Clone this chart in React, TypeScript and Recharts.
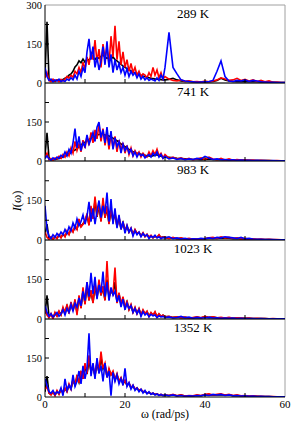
import React from "react";
import { LineChart, Line, XAxis, YAxis, ReferenceLine } from "recharts";

// Frequency grid (rad/ps)
const W = [
  0, 0.5, 1, 1.5, 2, 2.5, 3, 3.5, 4, 4.5, 5, 5.5, 6, 6.5, 7, 7.5, 8, 8.5, 9, 9.5,
  10, 10.5, 11, 11.5, 12, 12.5, 13, 13.5, 14, 14.5, 15, 15.5, 16, 16.5, 17, 17.5, 18, 18.5, 19, 19.5,
  20, 20.5, 21, 21.5, 22, 22.5, 23, 23.5, 24, 24.5, 25, 25.5, 26, 26.5, 27, 27.5, 28, 28.5, 29, 29.5,
  30, 31, 32, 33, 34, 35, 36, 37, 38, 39, 40, 41, 42, 43, 44, 45, 46, 47, 48, 49,
  50, 51, 52, 53, 54, 55, 56, 57, 58, 59, 60,
];

const TEMPS = ["289 K", "741 K", "983 K", "1023 K", "1352 K"];
const X_TICKS = [0, 10, 20, 30, 40, 50, 60];
const Y_TICKS = [0, 75, 150, 225, 300];

// 289 K
const K1 = [
  30, 235, 15, 8, 10, 6, 12, 8, 10, 14, 18, 22, 30, 35, 45, 62, 70, 85, 78, 92,
  80, 92, 88, 98, 95, 90, 100, 95, 102, 108, 100, 95, 98, 92, 100, 90, 85, 78, 72, 65,
  60, 55, 50, 46, 42, 38, 35, 32, 30, 26, 25, 22, 20, 18, 17, 15, 15, 14, 13, 12,
  12, 14, 18, 12, 8, 6, 6, 5, 5, 5, 4, 5, 6, 10, 18, 12, 8, 6, 5, 6,
  5, 5, 6, 5, 4, 4, 3, 3, 2, 2, 2,
];
const R1 = [
  20, 40, 10, 5, 15, 8, 12, 5, 14, 8, 15, 25, 18, 30, 22, 45, 35, 60, 40, 80,
  55, 100, 70, 120, 90, 165, 80, 130, 60, 150, 95, 140, 70, 180, 100, 220, 90, 160, 70, 120,
  60, 90, 45, 75, 40, 60, 30, 45, 25, 35, 30, 20, 40, 25, 60, 30, 50, 20, 40, 15,
  25, 15, 10, 8, 12, 6, 8, 5, 6, 4, 7, 5, 8, 12, 20, 15, 10, 12, 18, 10,
  14, 8, 12, 6, 10, 5, 8, 3, 4, 2, 2,
];
const B1 = [
  60, 25, 10, 15, 5, 12, 8, 15, 5, 10, 6, 15, 10, 20, 12, 30, 15, 45, 25, 60,
  40, 120, 170, 90, 140, 60, 100, 50, 85, 140, 70, 160, 60, 110, 40, 90, 50, 75, 40, 60,
  30, 55, 25, 45, 30, 40, 20, 35, 15, 25, 12, 20, 10, 15, 12, 8, 20, 10, 30, 15,
  60, 195, 60, 35, 12, 8, 6, 5, 3, 4, 5, 6, 10, 45, 85, 25, 8, 6, 10, 8,
  12, 6, 10, 8, 5, 4, 3, 3, 2, 2, 2,
];

// 741 K
const K2 = [
  20, 108, 12, 6, 5, 6, 8, 10, 12, 15, 18, 22, 28, 32, 38, 42, 48, 55, 62, 68,
  72, 78, 82, 88, 92, 96, 100, 102, 104, 102, 100, 98, 96, 92, 88, 82, 78, 72, 66, 60,
  55, 50, 45, 40, 36, 32, 30, 28, 26, 24, 22, 20, 19, 18, 20, 22, 24, 20, 18, 16,
  15, 14, 12, 10, 9, 8, 7, 6, 6, 5, 6, 8, 6, 5, 5, 4, 4, 4, 3, 3,
  3, 3, 2, 2, 2, 2, 2, 1, 1, 1, 1,
];
const R2 = [
  15, 30, 5, 10, 3, 12, 8, 18, 10, 25, 15, 35, 20, 50, 30, 75, 40, 65, 35, 80,
  50, 95, 60, 110, 70, 120, 85, 140, 75, 125, 60, 110, 45, 100, 50, 95, 35, 80, 40, 70,
  30, 60, 25, 50, 20, 40, 25, 35, 15, 30, 20, 15, 35, 20, 40, 25, 45, 20, 30, 12,
  25, 10, 15, 8, 12, 6, 10, 5, 8, 12, 6, 15, 8, 5, 10, 4, 8, 3, 6, 4,
  5, 3, 4, 2, 3, 2, 2, 1, 2, 1, 1,
];
const B2 = [
  10, 20, 8, 3, 12, 6, 15, 10, 22, 15, 35, 20, 45, 30, 70, 125, 50, 95, 40, 70,
  55, 100, 65, 85, 110, 75, 130, 150, 90, 120, 70, 130, 60, 115, 45, 90, 55, 75, 30, 65,
  40, 55, 30, 45, 20, 35, 15, 30, 20, 25, 12, 20, 25, 15, 30, 20, 35, 15, 25, 10,
  18, 8, 12, 6, 10, 5, 8, 6, 10, 8, 18, 12, 6, 8, 5, 6, 4, 5, 3, 4,
  3, 3, 2, 3, 2, 2, 1, 2, 1, 1, 1,
];

// 983 K
const K3 = [
  20, 60, 5, 10, 3, 12, 6, 18, 10, 22, 14, 30, 22, 40, 32, 50, 42, 72, 52, 62,
  72, 95, 58, 120, 82, 150, 88, 130, 72, 145, 85, 120, 62, 110, 72, 100, 52, 85, 42, 66,
  36, 52, 30, 42, 22, 38, 24, 28, 16, 26, 13, 20, 11, 16, 9, 14, 10, 18, 9, 11,
  10, 6, 8, 5, 6, 4, 5, 4, 4, 4, 5, 6, 7, 6, 8, 7, 7, 5, 6, 4,
  4, 3, 3, 2, 2, 2, 2, 1, 1, 1, 1,
];
const R3 = [
  30, 10, 3, 12, 0, 15, 5, 20, 8, 25, 12, 35, 20, 45, 30, 55, 40, 80, 50, 60,
  75, 100, 55, 130, 80, 165, 90, 140, 70, 160, 85, 130, 60, 120, 75, 105, 50, 90, 40, 70,
  35, 55, 30, 45, 20, 40, 25, 30, 15, 28, 12, 22, 10, 18, 8, 15, 10, 20, 8, 12,
  10, 6, 10, 5, 8, 4, 6, 3, 5, 4, 6, 8, 10, 6, 12, 8, 10, 6, 8, 5,
  6, 4, 5, 3, 4, 2, 3, 2, 2, 1, 1,
];
const B3 = [
  130, 40, 15, 5, 20, 10, 25, 15, 30, 20, 40, 25, 50, 35, 65, 45, 80, 55, 70, 95,
  60, 90, 145, 70, 120, 60, 110, 150, 85, 130, 100, 180, 70, 155, 60, 120, 45, 95, 40, 70,
  25, 55, 30, 45, 15, 35, 20, 30, 12, 25, 15, 20, 5, 15, 10, 18, 8, 12, 5, 10,
  8, 12, 5, 8, 4, 6, 3, 5, 4, 6, 5, 8, 6, 10, 8, 12, 10, 8, 6, 10,
  5, 6, 4, 3, 3, 2, 2, 2, 1, 1, 1,
];

// 1023 K
const K4 = [
  20, 90, 8, 18, 4, 22, 12, 28, 16, 40, 26, 50, 24, 60, 32, 70, 22, 82, 42, 108,
  58, 125, 72, 105, 62, 125, 82, 135, 90, 118, 72, 150, 85, 105, 95, 140, 62, 95, 55, 80,
  42, 65, 36, 52, 26, 42, 22, 38, 16, 32, 20, 28, 11, 23, 15, 25, 9, 18, 10, 14,
  8, 9, 6, 7, 5, 6, 4, 5, 6, 5, 8, 6, 7, 5, 5, 4, 5, 3, 4, 3,
  3, 3, 2, 2, 2, 2, 1, 1, 1, 1, 1,
];
const R4 = [
  40, 15, 5, 20, 0, 25, 10, 30, 15, 45, 25, 55, 20, 65, 30, 75, 15, 90, 40, 120,
  55, 140, 70, 110, 60, 135, 80, 150, 90, 125, 70, 220, 80, 110, 95, 195, 60, 100, 55, 85,
  40, 70, 35, 55, 25, 45, 20, 40, 15, 35, 20, 30, 10, 25, 15, 28, 8, 20, 10, 15,
  8, 10, 6, 8, 5, 7, 4, 6, 8, 5, 10, 6, 8, 5, 6, 4, 6, 3, 5, 4,
  3, 4, 2, 3, 2, 2, 1, 2, 1, 1, 1,
];
const B4 = [
  50, 25, 10, 20, 8, 15, 25, 10, 20, 35, 15, 40, 25, 55, 30, 60, 45, 80, 50, 105,
  70, 140, 85, 175, 95, 160, 75, 130, 100, 180, 85, 140, 70, 120, 90, 105, 65, 90, 45, 75,
  35, 60, 40, 50, 25, 40, 20, 35, 10, 28, 15, 22, 8, 18, 12, 15, 5, 12, 8, 10,
  6, 8, 4, 6, 10, 5, 7, 3, 6, 4, 5, 6, 4, 5, 3, 4, 3, 4, 2, 3,
  2, 2, 2, 1, 2, 1, 1, 1, 1, 1, 1,
];

// 1352 K
const K5 = [
  20, 80, 15, 10, 18, 8, 22, 12, 28, 16, 32, 22, 46, 32, 64, 46, 78, 56, 92, 70,
  118, 88, 140, 98, 115, 82, 130, 95, 150, 108, 122, 78, 105, 85, 96, 66, 86, 60, 72, 50,
  62, 45, 52, 36, 43, 30, 34, 25, 28, 20, 21, 15, 17, 12, 14, 10, 11, 8, 9, 6,
  7, 6, 8, 5, 7, 4, 5, 4, 6, 5, 8, 9, 7, 8, 9, 7, 8, 5, 6, 4,
  5, 3, 4, 3, 2, 2, 2, 1, 1, 1, 1,
];
const R5 = [
  30, 40, 15, 8, 20, 5, 25, 10, 30, 15, 35, 20, 50, 30, 70, 45, 85, 55, 100, 70,
  130, 90, 160, 100, 120, 80, 140, 95, 175, 110, 130, 75, 110, 85, 100, 65, 90, 60, 75, 50,
  65, 45, 55, 35, 45, 30, 35, 25, 30, 20, 22, 15, 18, 12, 15, 10, 12, 8, 10, 6,
  8, 6, 10, 5, 8, 4, 6, 5, 8, 6, 10, 12, 8, 10, 12, 8, 10, 6, 8, 5,
  6, 4, 5, 3, 3, 2, 2, 2, 1, 1, 1,
];
const B5 = [
  70, 45, 20, 15, 25, 10, 20, 15, 35, 5, 70, 25, 45, 30, 85, 40, 60, 100, 50, 120,
  70, 110, 245, 80, 130, 70, 150, 90, 120, 60, 130, 75, 100, 5, 95, 60, 85, 50, 70, 45,
  110, 40, 55, 30, 45, 25, 35, 20, 30, 15, 25, 12, 20, 10, 15, 8, 12, 6, 10, 5,
  8, 5, 8, 4, 6, 3, 5, 4, 6, 5, 8, 6, 10, 8, 10, 6, 8, 5, 6, 4,
  5, 3, 4, 2, 3, 2, 2, 1, 1, 1, 1,
];

const SERIES = [
  [K1, R1, B1],
  [K2, R2, B2],
  [K3, R3, B3],
  [K4, R4, B4],
  [K5, R5, B5],
];

const FONT = "'Liberation Serif', 'DejaVu Serif', serif";
const PLOT_TOPS = [5, 83, 161, 240, 319, 397];
const PAD_TOP = 8;
const PAD_BOTTOM = 16;

const makeYTick = (showTop: boolean) => (props: any) => {
  const { x, y, payload } = props;
  const v = payload.value;
  const label = v === 0 || v === 150 || (showTop && v === 300);
  return (
    <g>
      {v !== 0 && v !== 300 && <line x1={x} x2={x + 4} y1={y} y2={y} stroke="#000" strokeWidth={1} />}
      {label && (
        <text x={x - 3} y={y} dy={3.5} textAnchor="end" fontSize={10.5} fontFamily={FONT} fill="#000">
          {v}
        </text>
      )}
    </g>
  );
};

const makeXTick = (showLabels: boolean) => (props: any) => {
  const { x, y, payload } = props;
  const v = payload.value;
  return (
    <g>
      {v !== 0 && v !== 60 && <line x1={x} x2={x} y1={y} y2={y - 4} stroke="#000" strokeWidth={1} />}
      {showLabels && v % 20 === 0 && (
        <text x={x} y={y + 11} textAnchor="middle" fontSize={11} fontFamily={FONT} fill="#000">
          {v}
        </text>
      )}
    </g>
  );
};

function Panel({ index }: { index: number }) {
  const top = PLOT_TOPS[index];
  const h = PLOT_TOPS[index + 1] - top;
  const [k, r, b] = SERIES[index];
  const data = W.map((w, i) => ({ w, k: k[i], r: r[i], b: b[i] }));
  const last = index === 4;
  return (
    <div style={{ position: "absolute", left: 0, top: top - PAD_TOP }}>
      <LineChart
        width={299}
        height={h + PAD_TOP + PAD_BOTTOM}
        data={data}
        margin={{ top: PAD_TOP, right: 14, bottom: PAD_BOTTOM - 1, left: 44 }}
      >
        <XAxis
          dataKey="w"
          type="number"
          domain={[0, 60]}
          ticks={X_TICKS}
          interval={0}
          height={1}
          tickSize={0}
          tickMargin={0}
          allowDataOverflow
          axisLine={{ stroke: "#000", strokeWidth: 1 }}
          tick={makeXTick(last)}
        />
        <YAxis
          type="number"
          domain={[0, 300]}
          ticks={Y_TICKS}
          interval={0}
          width={1}
          tickSize={0}
          tickMargin={0}
          allowDataOverflow
          axisLine={{ stroke: "#000", strokeWidth: 1 }}
          tick={makeYTick(index === 0)}
        />
        <ReferenceLine y={300} stroke="#a0a0a0" strokeWidth={1} />
        <ReferenceLine x={60} stroke="#a0a0a0" strokeWidth={1} />
        <Line dataKey="k" stroke="#000000" strokeWidth={1.6} dot={false} isAnimationActive={false} type="linear" />
        <Line dataKey="r" stroke="#ff0000" strokeWidth={1.6} dot={false} isAnimationActive={false} type="linear" />
        <Line dataKey="b" stroke="#0000ff" strokeWidth={1.6} dot={false} isAnimationActive={false} type="linear" />
      </LineChart>
    </div>
  );
}

export default function App() {
  return (
    <div style={{ position: "absolute", left: 0, top: 0, width: 299, height: 423, background: "#fff" }}>
      {[4, 3, 2, 1, 0].map((i) => (
        <Panel key={i} index={i} />
      ))}
      <svg width={299} height={423} style={{ position: "absolute", left: 0, top: 0, pointerEvents: "none" }}>
        {TEMPS.map((t, i) => (
          <text key={t} x={193} y={PLOT_TOPS[i] + 12.5} textAnchor="middle" fontSize={13} fontFamily={FONT} fill="#000">
            {t}
          </text>
        ))}
        <text
          x={0}
          y={0}
          transform="translate(21,201) rotate(-90)"
          textAnchor="middle"
          fontSize={12.5}
          fontFamily={FONT}
          fill="#000"
        >
          <tspan fontStyle="italic">I</tspan>
          <tspan>(ω)</tspan>
        </text>
        <text x={165} y={418} textAnchor="middle" fontSize={12} fontFamily={FONT} fill="#000">
          ω (rad/ps)
        </text>
      </svg>
    </div>
  );
}
